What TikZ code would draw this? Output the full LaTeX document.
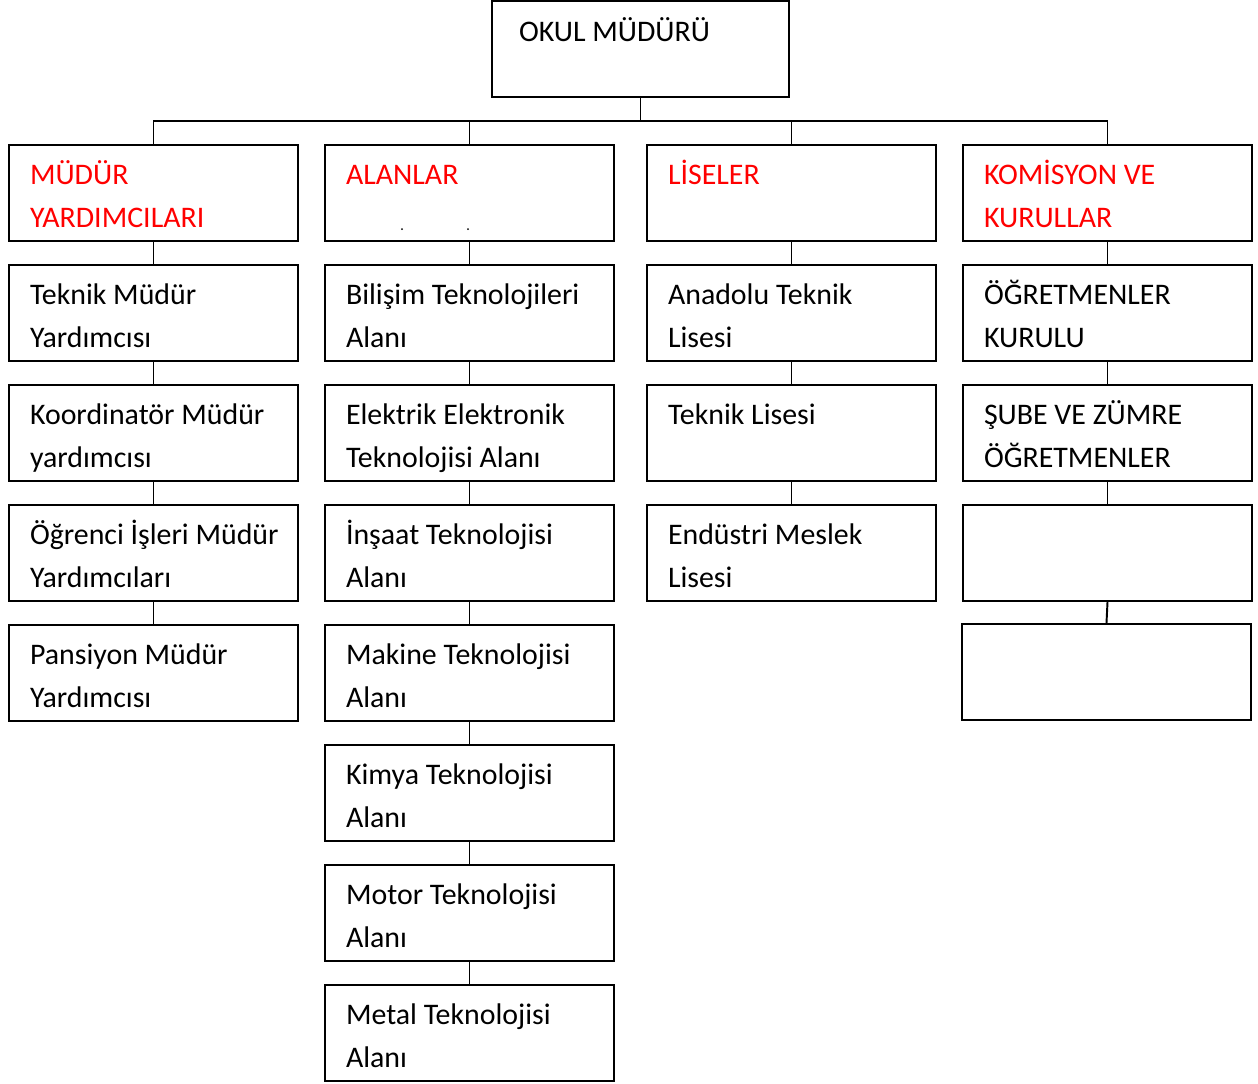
\documentclass[tikz,border=0pt]{standalone}
\usepackage{fontspec}
\setmainfont{Carlito}

\tikzset{
  orgbox/.style={draw, line width=1.1pt, inner sep=0pt, minimum width=5.78cm, minimum height=1.92cm},
  link/.style={line width=1.1pt}
}
\newcommand{\boxtext}[2][black]{\parbox[c][1.92cm][t]{5.78cm}{\raggedright\leftskip=0.42cm\color{#1}\fontsize{17pt}{24.5pt}\selectfont\rule{0pt}{0.78cm}#2}}

\begin{document}
\begin{tikzpicture}[x=0.02cm, y=-0.02cm]
\useasboundingbox (0,0) rectangle (1258,1083);

% Top
\node[draw, line width=1.1pt, inner sep=0pt, minimum width=5.94cm, minimum height=1.92cm] (okul) at (640.5,49)
  {\parbox[c][1.92cm][t]{5.94cm}{\leftskip=0.54cm\fontsize{17pt}{24.5pt}\selectfont\rule{0pt}{0.80cm}OKUL MÜDÜRÜ}};
\coordinate (bus) at (640.5,121);

% Column 1
\node[orgbox] (myard) at (153.5,193) {\boxtext[red]{MÜDÜR\\YARDIMCILARI}};
\node[orgbox] (tmy)   at (153.5,313) {\boxtext{Teknik Müdür\\Yardımcısı}};
\node[orgbox] (kmy)   at (153.5,433) {\boxtext{Koordinatör Müdür\\yardımcısı}};
\node[orgbox] (oimy)  at (153.5,553) {\boxtext{Öğrenci İşleri Müdür\\Yardımcıları}};
\node[orgbox] (pmy)   at (153.5,673) {\boxtext{Pansiyon Müdür\\Yardımcısı}};

% Column 2
\node[orgbox] (alan)     at (469.5,193)  {\boxtext[red]{ALANLAR}};
\node[orgbox] (bilisim)  at (469.5,313)  {\boxtext{Bilişim Teknolojileri\\Alanı}};
\node[orgbox] (elektrik) at (469.5,433)  {\boxtext{Elektrik Elektronik\\Teknolojisi Alanı}};
\node[orgbox] (insaat)   at (469.5,553)  {\boxtext{İnşaat Teknolojisi\\Alanı}};
\node[orgbox] (makine)   at (469.5,673)  {\boxtext{Makine Teknolojisi\\Alanı}};
\node[orgbox] (kimya)    at (469.5,793)  {\boxtext{Kimya Teknolojisi\\Alanı}};
\node[orgbox] (motor)    at (469.5,913)  {\boxtext{Motor Teknolojisi\\Alanı}};
\node[orgbox] (metal)    at (469.5,1033) {\boxtext{Metal Teknolojisi\\Alanı}};
\fill (402,229) circle (1);
\fill (468,229) circle (1);

% Column 3
\node[orgbox] (lise)     at (791.5,193) {\boxtext[red]{LİSELER}};
\node[orgbox] (anadolu)  at (791.5,313) {\boxtext{Anadolu Teknik\\Lisesi}};
\node[orgbox] (teknik)   at (791.5,433) {\boxtext{Teknik Lisesi}};
\node[orgbox] (endustri) at (791.5,553) {\boxtext{Endüstri Meslek\\Lisesi}};

% Column 4
\node[orgbox] (komisyon) at (1107.5,193) {\boxtext[red]{KOMİSYON VE\\KURULLAR}};
\node[orgbox] (ogrkurul) at (1107.5,313) {\boxtext{ÖĞRETMENLER\\KURULU}};
\node[orgbox] (sube)     at (1107.5,433) {\boxtext{ŞUBE VE ZÜMRE\\ÖĞRETMENLER}};
\node[orgbox] (bos1)     at (1107.5,553) {};
\node[orgbox] (bos2)     at (1106.5,672) {};

% Links
\draw[link] (okul) -- (bus);
\draw[link] (myard.north) |- (bus);
\draw[link] (alan.north) |- (bus);
\draw[link] (lise.north) |- (bus);
\draw[link] (komisyon.north) |- (bus);

\draw[link] (myard) -- (tmy);
\draw[link] (tmy) -- (kmy);
\draw[link] (kmy) -- (oimy);
\draw[link] (oimy) -- (pmy);

\draw[link] (alan) -- (bilisim);
\draw[link] (bilisim) -- (elektrik);
\draw[link] (elektrik) -- (insaat);
\draw[link] (insaat) -- (makine);
\draw[link] (makine) -- (kimya);
\draw[link] (kimya) -- (motor);
\draw[link] (motor) -- (metal);

\draw[link] (lise) -- (anadolu);
\draw[link] (anadolu) -- (teknik);
\draw[link] (teknik) -- (endustri);

\draw[link] (komisyon) -- (ogrkurul);
\draw[link] (ogrkurul) -- (sube);
\draw[link] (sube) -- (bos1);
\draw[link] (bos1.south) -- (bos2.north);

\end{tikzpicture}
\end{document}
